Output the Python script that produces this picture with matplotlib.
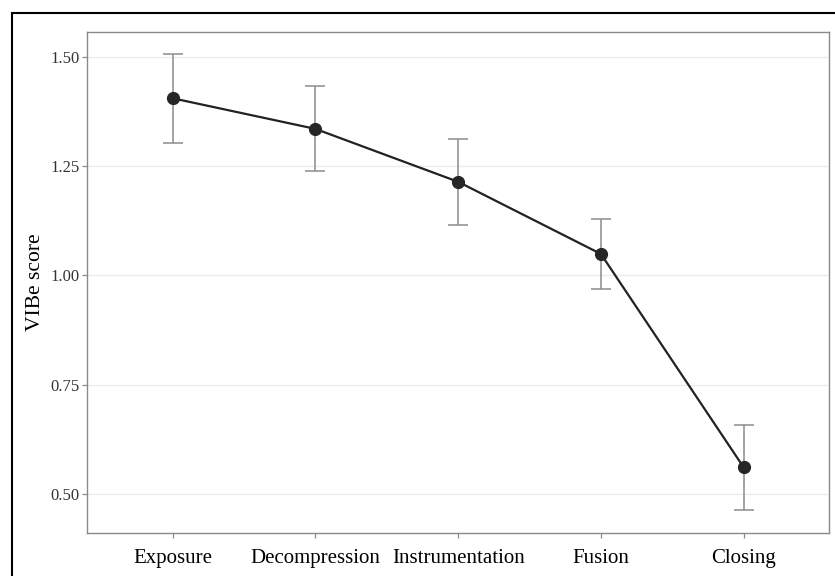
import numpy as np
import matplotlib
matplotlib.use('Agg')
import matplotlib.pyplot as plt
from matplotlib.patches import Rectangle

# datos
etapas = ['Exposure', 'Decompression', 'Instrumentation', 'Fusion', 'Closing']
media = [1.405, 1.335, 1.214, 1.049, 0.561]
sup = [1.507, 1.432, 1.313, 1.129, 0.659]
inf = [1.303, 1.238, 1.115, 0.969, 0.463]
yticks = [0.50, 0.75, 1.00, 1.25, 1.50]

plt.rcParams['font.family'] = ['Liberation Serif', 'DejaVu Serif']

fig = plt.figure(figsize=(8.35, 5.76), dpi=100)
ax = fig.add_axes([0.1042, 0.0747, 0.8890, 0.8697])

x = np.arange(1, len(etapas) + 1)
media = np.array(media)
err = [media - np.array(inf), np.array(sup) - media]

#barras de error
ax.errorbar(x, media, yerr=err, fmt='none', ecolor='#8c8c8c', elinewidth=1.1,
            capsize=7.5, capthick=1.1, zorder=2)
#linea y puntos
ax.plot(x, media, color='#222222', linewidth=1.6, zorder=3)
ax.plot(x, media, 'o', color='#262626', markersize=8.5, zorder=4)

ax.set_xlim(0.4, 5.6)
ax.set_ylim(0.411, 1.5565)
ax.set_xticks(x)
ax.set_xticklabels(etapas, fontsize=15)
ax.set_yticks(yticks)
ax.set_yticklabels(['%.2f' % v for v in yticks], fontsize=12, color='#333333')
ax.set_ylabel('VIBe score', fontsize=15.5, labelpad=4)

ax.yaxis.grid(True, color='#ebebeb', linewidth=1.0)
ax.set_axisbelow(True)
for s in ax.spines.values():
    s.set_color('#8a8a8a')
    s.set_linewidth(1.0)
ax.tick_params(axis='both', color='#8a8a8a', length=3.5, width=0.9)
ax.tick_params(axis='x', pad=8)
ax.tick_params(axis='y', pad=2)

#marco negro exterior
fig.patches.append(Rectangle((12/835, -0.1), 1.0, 1 - 12.7/576 + 0.1,
                             transform=fig.transFigure, fill=False,
                             edgecolor='black', linewidth=1.5))

plt.savefig('out.png', dpi=100)
